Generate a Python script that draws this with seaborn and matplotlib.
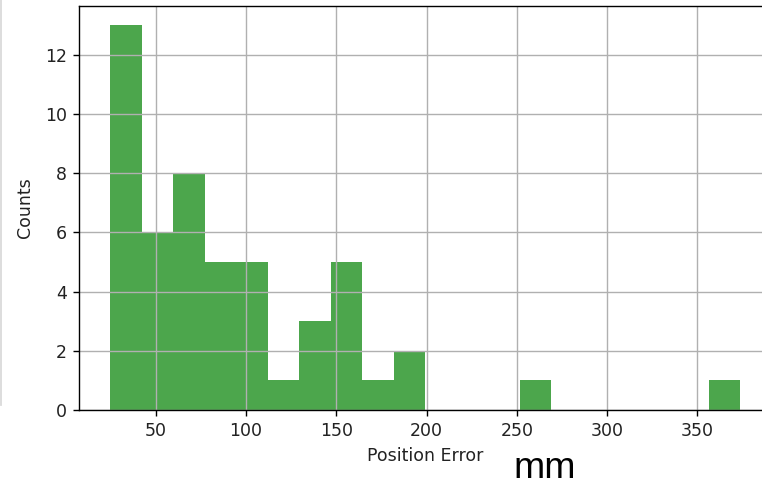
import matplotlib
matplotlib.use("Agg")
import matplotlib.pyplot as plt
import seaborn as sns
from matplotlib.lines import Line2D

# histogram: 20 bins from ~24.9 to ~373.7
bin_lo = 24.9
bin_hi = 373.7
n_bins = 20
counts = [13, 6, 8, 5, 5, 1, 3, 5, 1, 2, 0, 0, 0, 1, 0, 0, 0, 0, 0, 1]

width = (bin_hi - bin_lo) / n_bins
edges = [bin_lo + i * width for i in range(n_bins + 1)]
centers = [bin_lo + (i + 0.5) * width for i in range(n_bins)]

fig = plt.figure(figsize=(762 / 125, 487 / 125), dpi=125)
# axes runs a little past the right edge, as in the cropped original
ax = fig.add_axes([79 / 762, 77 / 487, 692.6 / 762, 404 / 487])

sns.histplot(x=centers, weights=counts, bins=edges, color="g", alpha=0.7,
             linewidth=0, ax=ax)

ax.grid(True, color="#b0b0b0", linewidth=0.8)
ax.set_xticks([50, 100, 150, 200, 250, 300, 350])
ax.set_yticks([0, 2, 4, 6, 8, 10, 12])
ax.tick_params(labelcolor="#222222")
ax.set_xlabel("Position Error", color="#222222")
ax.set_ylabel("Counts", color="#222222", labelpad=6)

fig.text(545 / 762, 9 / 487, "mm", fontsize=21.5, family="Liberation Sans",
         ha="center", va="baseline")

# faint frame edge at the far left of the screenshot
fig.add_artist(Line2D([0.6 / 762, 0.6 / 762], [82 / 487, 1], color="#d8d8d8",
                      linewidth=1))

fig.savefig("out.png", dpi=125)
